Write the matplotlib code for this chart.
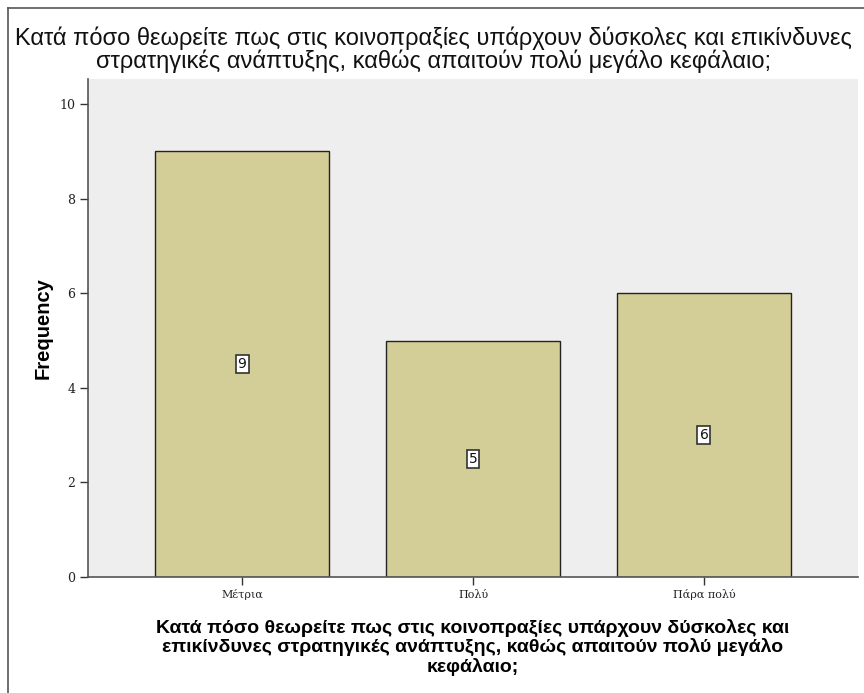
import matplotlib
matplotlib.use("Agg")
import matplotlib.pyplot as plt
from matplotlib.lines import Line2D

categories = ["Μέτρια", "Πολύ", "Πάρα πολύ"]
counts = [9, 5, 6]
yticks = [0, 2, 4, 6, 8, 10]

title = ("Κατά πόσο θεωρείτε πως στις κοινοπραξίες υπάρχουν δύσκολες και επικίνδυνες\n"
         "στρατηγικές ανάπτυξης, καθώς απαιτούν πολύ μεγάλο κεφάλαιο;")
xlabel = ("Κατά πόσο θεωρείτε πως στις κοινοπραξίες υπάρχουν δύσκολες και\n"
          "επικίνδυνες στρατηγικές ανάπτυξης, καθώς απαιτούν πολύ μεγάλο\n"
          "κεφάλαιο;")

W, H = 864, 693
fig = plt.figure(figsize=(W / 100, H / 100), dpi=100)
fig.patch.set_facecolor("white")

# plot area in pixel coordinates
left, right, top, bottom = 88, 858, 79, 577
ax = fig.add_axes([left / W, 1 - bottom / H, (right - left) / W, (bottom - top) / H])
ax.set_facecolor("#EEEEEE")

x = list(range(len(categories)))
ax.bar(x, counts, width=0.75, color="#D3CE97", edgecolor="#222222", linewidth=1.0, zorder=2)
for xi, c in zip(x, counts):
    ax.text(xi, c / 2, str(c), ha="center", va="center", fontsize=10,
            family="DejaVu Sans", color="#111111", zorder=3,
            bbox=dict(boxstyle="square,pad=0.15", facecolor="white",
                      edgecolor="#333333", linewidth=1.2))

ax.set_xlim(-0.667, 2.667)
ax.set_ylim(0, 10.53)
ax.set_yticks(yticks)
ax.set_yticklabels([str(t) for t in yticks], family="DejaVu Serif", fontsize=9)
ax.set_xticks(x)
ax.set_xticklabels(categories, family="DejaVu Serif", fontsize=8)

for s in ("top", "right"):
    ax.spines[s].set_visible(False)
for s in ("left", "bottom"):
    ax.spines[s].set_color("#555555")
    ax.spines[s].set_linewidth(1.2)
ax.tick_params(axis="both", direction="out", length=6, width=1.0, color="#333333",
               labelcolor="#222222", pad=3)

ax.set_ylabel("Frequency", family="Liberation Sans", fontsize=14.5, fontweight="bold",
              labelpad=5)
ax.set_xlabel(xlabel, family="Liberation Sans", fontsize=14, fontweight="bold",
              linespacing=1.1, labelpad=13)

fig.text(433 / W, 1 - 50 / H, title, ha="center", va="center", fontsize=17,
         family="Liberation Sans", linespacing=0.95, color="#111111")

# outer frame lines
fig.add_artist(Line2D([8 / W, 8 / W], [0, 1 - 8 / H], transform=fig.transFigure,
                      color="#555555", linewidth=1.2))
fig.add_artist(Line2D([8 / W, 1], [1 - 8 / H, 1 - 8 / H], transform=fig.transFigure,
                      color="#555555", linewidth=1.2))

fig.savefig("out.png", dpi=100)
